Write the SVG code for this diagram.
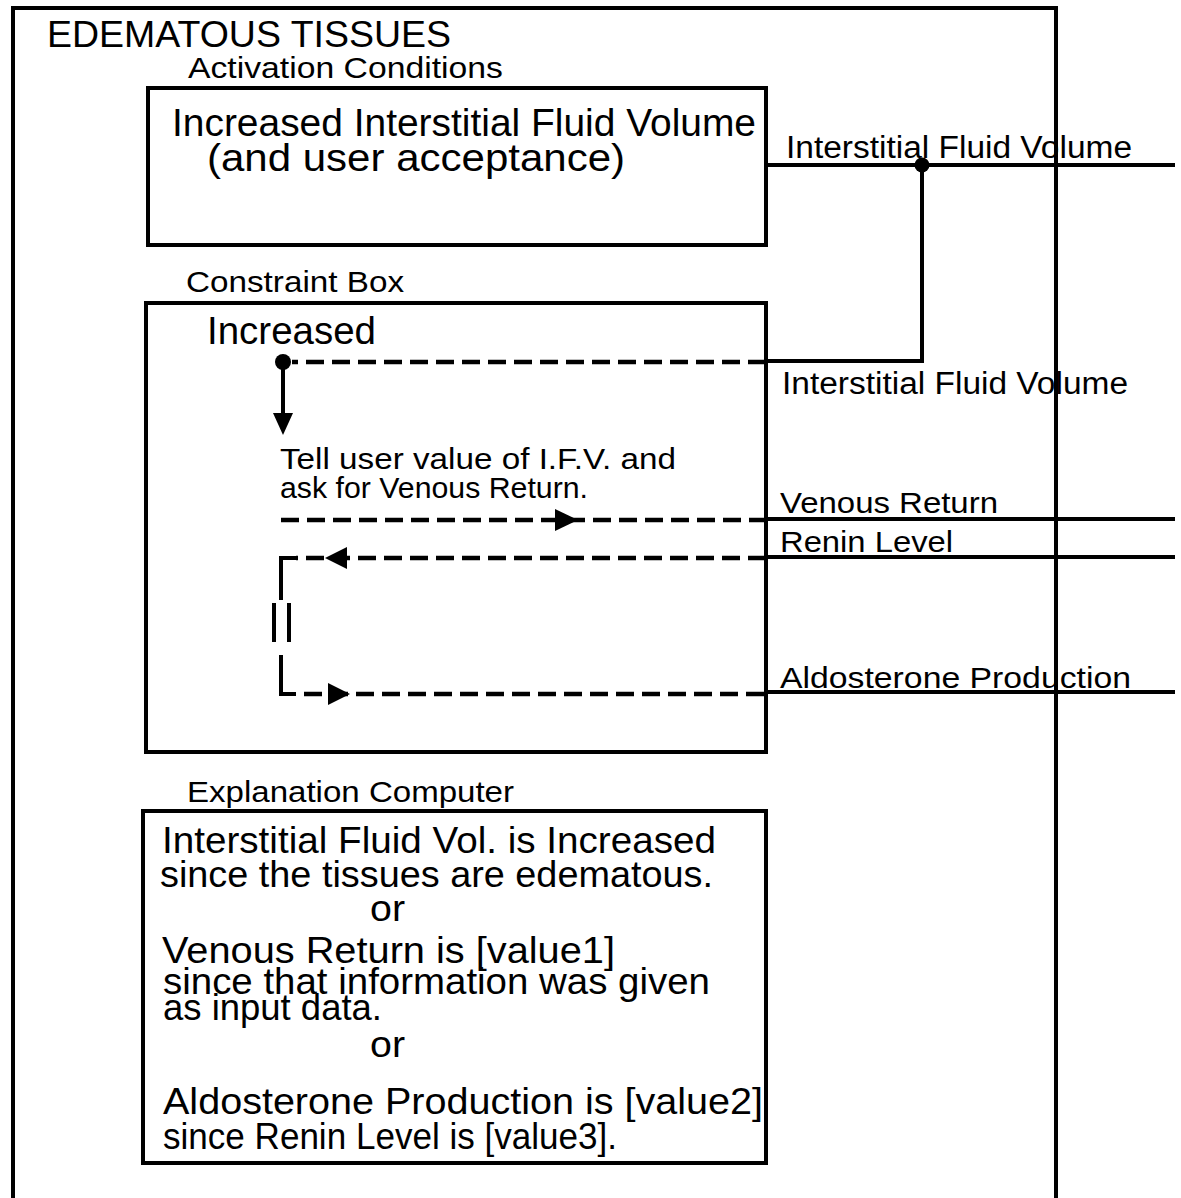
<svg xmlns="http://www.w3.org/2000/svg" width="1181" height="1198" viewBox="0 0 1181 1198">
  <style>
    text { font-family: "Liberation Sans", Arial, sans-serif; fill: #000; }
    .title { font-size: 37px; }
    .label { font-size: 29px; }
    .big { font-size: 38px; }
    .sig { font-size: 31px; }
    .small { font-size: 30px; }
    .expl { font-size: 36px; }
    .box { fill: none; stroke: #000; stroke-width: 4; }
    .solid { fill: none; stroke: #000; stroke-width: 4; }
    .dash { fill: none; stroke: #000; stroke-width: 4.5; stroke-dasharray: 18 8; }
    .head { fill: #000; stroke: none; }
  </style>

  <rect x="0" y="0" width="1181" height="1198" fill="#fff"/>

  <!-- outer frame: open at the bottom -->
  <g id="frame">
    <path class="box" d="M13,1198 V8 H1056 V1198"/>
    <text class="title" x="47" y="47" textLength="404" lengthAdjust="spacingAndGlyphs">EDEMATOUS TISSUES</text>
  </g>

  <!-- activation conditions node -->
  <g id="activation-conditions">
    <text class="label" x="188" y="78" textLength="315" lengthAdjust="spacingAndGlyphs">Activation Conditions</text>
    <rect class="box" x="148" y="88" width="618" height="157"/>
    <text class="big" x="172" y="136" textLength="584" lengthAdjust="spacingAndGlyphs">Increased Interstitial Fluid Volume</text>
    <text class="big" x="207" y="171" textLength="418" lengthAdjust="spacingAndGlyphs">(and user acceptance)</text>
  </g>

  <!-- constraint box node -->
  <g id="constraint-box">
    <text class="label" x="186" y="292" textLength="218" lengthAdjust="spacingAndGlyphs">Constraint Box</text>
    <rect class="box" x="146" y="303" width="620" height="449"/>
    <text class="big" x="207" y="344" textLength="169" lengthAdjust="spacingAndGlyphs">Increased</text>
    <text class="small" x="280" y="469" textLength="396" lengthAdjust="spacingAndGlyphs">Tell user value of I.F.V. and</text>
    <text class="small" x="280" y="498" textLength="308" lengthAdjust="spacingAndGlyphs">ask for Venous Return.</text>
  </g>

  <!-- explanation computer node -->
  <g id="explanation-computer">
    <text class="label" x="187" y="802" textLength="327" lengthAdjust="spacingAndGlyphs">Explanation Computer</text>
    <rect class="box" x="143" y="811" width="623" height="352"/>
    <text class="expl" x="162" y="853" textLength="554" lengthAdjust="spacingAndGlyphs">Interstitial Fluid Vol. is Increased</text>
    <text class="expl" x="160" y="887" textLength="553" lengthAdjust="spacingAndGlyphs">since the tissues are edematous.</text>
    <text class="expl" x="370" y="921" textLength="35" lengthAdjust="spacingAndGlyphs">or</text>
    <text class="expl" x="162" y="963" textLength="453" lengthAdjust="spacingAndGlyphs">Venous Return is [value1]</text>
    <text class="expl" x="163" y="994" textLength="547" lengthAdjust="spacingAndGlyphs">since that information was given</text>
    <text class="expl" x="163" y="1020" textLength="219" lengthAdjust="spacingAndGlyphs">as input data.</text>
    <text class="expl" x="370" y="1057" textLength="35" lengthAdjust="spacingAndGlyphs">or</text>
    <text class="expl" x="163" y="1114" textLength="600" lengthAdjust="spacingAndGlyphs">Aldosterone Production is [value2]</text>
    <text class="expl" x="163" y="1149" textLength="454" lengthAdjust="spacingAndGlyphs">since Renin Level is [value3].</text>
  </g>

  <!-- signal labels on the outgoing lines -->
  <g id="signal-labels">
    <text class="sig" x="786" y="158" textLength="346" lengthAdjust="spacingAndGlyphs">Interstitial Fluid Volume</text>
    <text class="sig" x="782" y="394" textLength="346" lengthAdjust="spacingAndGlyphs">Interstitial Fluid Volume</text>
    <text class="label" x="780" y="513" textLength="218" lengthAdjust="spacingAndGlyphs">Venous Return</text>
    <text class="label" x="780" y="552" textLength="173" lengthAdjust="spacingAndGlyphs">Renin Level</text>
    <text class="label" x="780" y="688" textLength="351" lengthAdjust="spacingAndGlyphs">Aldosterone Production</text>
  </g>

  <!-- connectors -->
  <g id="connectors">
    <!-- interstitial fluid volume tap -->
    <line class="solid" x1="766" y1="165" x2="1175" y2="165"/>
    <circle cx="922" cy="165" r="7.5" fill="#000"/>
    <path class="solid" d="M922,165 V361 H766"/>
    <line class="dash" x1="766" y1="362" x2="292" y2="362"/>
    <circle cx="283" cy="362" r="8" fill="#000"/>
    <line class="solid" x1="283" y1="362" x2="283" y2="416"/>
    <polygon class="head" points="273,413 293,413 283,435"/>

    <!-- venous return request -->
    <line class="dash" x1="281" y1="520" x2="766" y2="520"/>
    <polygon class="head" points="555,509 555,531 578,520"/>
    <line class="solid" x1="766" y1="519" x2="1175" y2="519"/>

    <!-- renin level in -->
    <line class="solid" x1="766" y1="557" x2="1175" y2="557"/>
    <line class="dash" x1="766" y1="558" x2="296" y2="558"/>
    <polygon class="head" points="347,547 347,569 325,558"/>
    <path class="solid" d="M296,558 H281 V600" stroke-width="4.5"/>

    <!-- equality bars -->
    <line class="solid" x1="274" y1="603" x2="274" y2="642" stroke-width="4.5"/>
    <line class="solid" x1="289" y1="603" x2="289" y2="642" stroke-width="4.5"/>

    <!-- aldosterone production out -->
    <path class="solid" d="M281,655 V694 H296" stroke-width="4.5"/>
    <line class="dash" x1="304" y1="694" x2="766" y2="694"/>
    <polygon class="head" points="328,683 328,705 350,694"/>
    <line class="solid" x1="766" y1="692" x2="1175" y2="692"/>
  </g>
</svg>
